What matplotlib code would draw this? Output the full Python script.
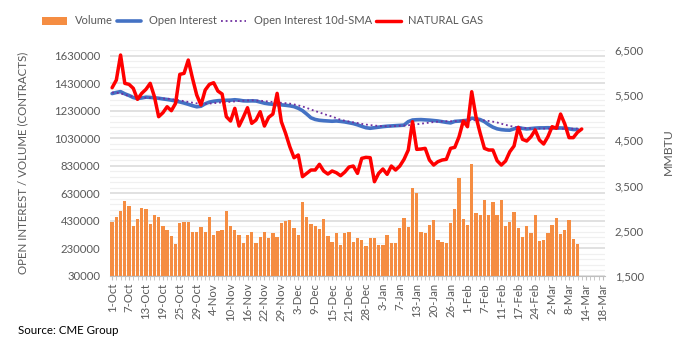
import matplotlib
matplotlib.use("Agg")
import matplotlib.pyplot as plt
from matplotlib.patches import Patch
from matplotlib.lines import Line2D
from matplotlib.ticker import FuncFormatter, MultipleLocator, FixedLocator
import numpy as np

plt.rcParams['font.family'] = ['Lato', 'DejaVu Sans']

# ---------------- data ----------------
tick_labels = ["1-Oct", "7-Oct", "13-Oct", "19-Oct", "25-Oct", "29-Oct",
               "4-Nov", "10-Nov", "16-Nov", "22-Nov", "29-Nov",
               "3-Dec", "9-Dec", "15-Dec", "21-Dec", "28-Dec",
               "3-Jan", "7-Jan", "13-Jan", "20-Jan", "26-Jan",
               "1-Feb", "7-Feb", "11-Feb", "17-Feb", "24-Feb",
               "2-Mar", "8-Mar", "14-Mar", "18-Mar"]
n_categories = 117  # trading days 1-Oct .. 18-Mar

volume = [421, 455, 499, 571, 535, 390, 441, 520, 513, 405,
          470, 460, 395, 361, 318, 260, 412, 419, 419, 347,
          347, 383, 347, 460, 325, 354, 361, 499, 395, 361,
          329, 267, 329, 347, 267, 310, 347, 303, 339, 310,
          412, 426, 434, 376, 325, 564, 455, 405, 395, 368,
          441, 318, 274, 339, 252, 339, 347, 274, 303, 293,
          245, 303, 303, 257, 257, 325, 267, 267, 376, 448,
          383, 665, 629, 347, 339, 397, 434, 289, 274, 267,
          412, 513, 738, 441, 397, 846, 484, 470, 578, 470,
          564, 470, 578, 390, 419, 492, 376, 310, 390, 339,
          470, 281, 289, 339, 397, 448, 332, 361, 434, 296,
          260]
volume = [v * 1000 for v in volume]

open_interest = [1354, 1362, 1368, 1352, 1340, 1325, 1318, 1322, 1328, 1326,
                 1323, 1320, 1315, 1311, 1306, 1300, 1293, 1285, 1276, 1266,
                 1258, 1262, 1280, 1292, 1298, 1302, 1304, 1305, 1306, 1309,
                 1306, 1301, 1300, 1301, 1300, 1292, 1284, 1279, 1276, 1274,
                 1272, 1269, 1265, 1259, 1247, 1230, 1205, 1178, 1166, 1160,
                 1157, 1155, 1153, 1155, 1152, 1148, 1142, 1136, 1127, 1116,
                 1106, 1102, 1106, 1110, 1114, 1117, 1119, 1121, 1123, 1125,
                 1150, 1162, 1164, 1165, 1163, 1161, 1158, 1155, 1150, 1145,
                 1141, 1152, 1154, 1157, 1160, 1175, 1172, 1165, 1150, 1128,
                 1110, 1098, 1092, 1089, 1088, 1098, 1107, 1101, 1097, 1100,
                 1103, 1105, 1105, 1106, 1105, 1105, 1104, 1103, 1098, 1093,
                 1093]
open_interest = [v * 1000 for v in open_interest]

oi_sma10 = [1362, 1360, 1355, 1345, 1337, 1331, 1328, 1326, 1324, 1322,
            1320, 1319, 1318, 1317, 1314, 1309, 1304, 1299, 1293, 1288,
            1283, 1281, 1280, 1281, 1284, 1287, 1290, 1292, 1294, 1297,
            1300, 1302, 1304, 1305, 1304, 1302, 1299, 1296, 1293, 1290,
            1287, 1284, 1281, 1275, 1268, 1260, 1250, 1238, 1227, 1217,
            1206, 1196, 1187, 1175, 1164, 1157, 1151, 1145, 1140, 1134,
            1129, 1125, 1122, 1119, 1117, 1117, 1117, 1118, 1120, 1122,
            1124, 1127, 1131, 1135, 1139, 1143, 1147, 1150, 1152, 1153,
            1153, 1153, 1155, 1157, 1159, 1160, 1160, 1160, 1159, 1155,
            1150, 1144, 1135, 1127, 1119, 1113, 1108, 1105, 1103, 1101,
            1100, 1100, 1100, 1100, 1100, 1100, 1100, 1099, 1099, 1099,
            1099]
oi_sma10 = [v * 1000 for v in oi_sma10]

natural_gas = [5666, 5836, 6389, 5762, 5740, 5652, 5408, 5541, 5630, 5762,
               5467, 5024, 5112, 5245, 5157, 5320, 5961, 5983, 6278, 5873,
               5504, 5283, 5614, 5740, 5776, 5592, 5526, 5024, 4929, 5209,
               4818, 5010, 5223, 4877, 4951, 5134, 4818, 5010, 5083, 5541,
               4914, 4657, 4360, 4117, 4177, 3697, 3771, 3845, 3845, 3971,
               3823, 3756, 3823, 3785, 3719, 3800, 3911, 3933, 3771, 4103,
               4125, 4117, 3586, 3771, 3867, 3749, 3933, 3845, 3933, 4081,
               4287, 4914, 4302, 4309, 4324, 4066, 3955, 4029, 4066, 4081,
               4324, 4347, 4581, 4929, 4803, 5577, 5024, 4657, 4324, 4287,
               4287, 4051, 3955, 4044, 4250, 4376, 4789, 4524, 4486, 4581,
               4730, 4508, 4420, 4581, 4803, 4767, 5083, 4862, 4561, 4561,
               4679, 4752]

# ---------------- figure ----------------
fig = plt.figure(figsize=(6.97, 3.52), dpi=100)
ax = fig.add_axes([110 / 697, 1 - 276 / 352, (605 - 110) / 697, (276 - 50) / 352])
ax2 = ax.twinx()

grey_text = '#595959'
x_vol = np.arange(len(volume))
x_oi = np.arange(len(open_interest))
x_sma = np.arange(len(oi_sma10))
x_ng = np.arange(len(natural_gas))

ax.bar(x_vol, volume, width=0.78, bottom=0, color='#F58D42', zorder=2)
ax.plot(x_oi, open_interest, color='#4472C4', lw=2.6, solid_capstyle='round', zorder=3)
ax.plot(x_sma, oi_sma10, color='#7030A0', lw=1.3, ls=(0, (1, 1.6)), zorder=4)
ax2.plot(x_ng, natural_gas, color='#FF0000', lw=2.5, solid_capstyle='round',
         solid_joinstyle='round', zorder=5)

ax.set_xlim(-0.5, n_categories - 0.5)
ax.set_ylim(30000, 1670000)
ax2.set_ylim(1500, 6500)

# y ticks
ax.yaxis.set_major_locator(FixedLocator(np.arange(30000, 1630001, 200000)))
ax.yaxis.set_minor_locator(FixedLocator(np.arange(30000, 1670001, 40000)))
ax.yaxis.set_major_formatter(FuncFormatter(lambda v, p: f"{int(round(v))}"))
ax2.yaxis.set_major_locator(FixedLocator(np.arange(1500, 6501, 1000)))
ax2.yaxis.set_major_formatter(FuncFormatter(lambda v, p: f"{int(round(v)):,}"))

ax.grid(axis='y', which='minor', color='#F0F0F0', lw=0.9, zorder=0)
ax.grid(axis='y', which='major', color='#D9D9D9', lw=1.1, zorder=0)
ax.set_axisbelow(True)

# x ticks
ax.set_xticks(np.arange(0, n_categories, 4))
ax.set_xticklabels(tick_labels, rotation=90, fontsize=8.2, color=grey_text)
ax.xaxis.set_minor_locator(MultipleLocator(1))
ax.tick_params(axis='x', which='both', length=3, color='#BFBFBF', pad=2)

ax.tick_params(axis='y', which='both', length=0, labelsize=8.2, labelcolor=grey_text, pad=7)
ax2.tick_params(axis='y', which='both', length=0, labelsize=8.2, labelcolor=grey_text, pad=7)

for a in (ax, ax2):
    for s in ('top', 'left', 'right'):
        a.spines[s].set_visible(False)
    a.spines['bottom'].set_color('#BFBFBF')
ax2.spines['bottom'].set_visible(False)

ax.set_ylabel("OPEN INTEREST / VOLUME (CONTRACTS)", fontsize=8.3, color=grey_text)
ax.yaxis.set_label_coords((28 - 110) / 495, 0.5)
ax2.set_ylabel("MMBTU", fontsize=8.8, color=grey_text)
ax2.yaxis.set_label_coords((663 - 110) / 495, 0.55)

handles = [Patch(facecolor='#F58D42', edgecolor='none'),
           Line2D([], [], color='#4472C4', lw=2.6, solid_capstyle='round'),
           Line2D([], [], color='#7030A0', lw=1.3, ls=(0, (1, 1.6))),
           Line2D([], [], color='#FF0000', lw=2.5, solid_capstyle='round')]
labels = ["Volume", "Open Interest", "Open Interest 10d-SMA", "NATURAL GAS"]
leg = fig.legend(handles, labels, loc='center', bbox_to_anchor=(263 / 697, 1 - 21 / 352),
                 ncol=4, frameon=False, fontsize=8.0, handlelength=2.2,
                 handletextpad=0.7, columnspacing=0.4, handleheight=0.7)
for t in leg.get_texts():
    t.set_color(grey_text)

fig.text(18 / 697, 1 - 331 / 352, "Source: CME Group", fontsize=8.3, color='black', va='center')

fig.savefig("out.png", dpi=100)
